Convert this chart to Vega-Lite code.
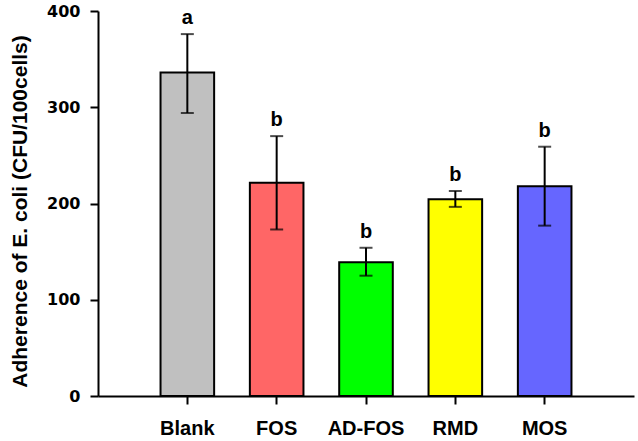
{
  "$schema": "https://vega.github.io/schema/vega-lite/v6.json",
  "autosize": {"type": "none"},
  "padding": {"left": 98, "top": 11, "right": 4, "bottom": 45},
  "width": 536,
  "height": 385,
  "background": "white",
  "config": {"view": {"stroke": null}, "font": "Liberation Sans"},
  "data": {"values": [
    {"group": "Blank", "mean": 336, "lo": 294, "hi": 376, "letter": "a"},
    {"group": "FOS", "mean": 221.5, "lo": 173, "hi": 270, "letter": "b"},
    {"group": "AD-FOS", "mean": 139, "lo": 125, "hi": 154, "letter": "b"},
    {"group": "RMD", "mean": 204.5, "lo": 196.5, "hi": 213, "letter": "b"},
    {"group": "MOS", "mean": 218, "lo": 177, "hi": 259, "letter": "b"}
  ]},
  "encoding": {
    "x": {
      "field": "group", "type": "nominal", "sort": null,
      "scale": {"paddingInner": 0, "paddingOuter": 0.5},
      "axis": {
        "title": null, "labelAngle": 0,
        "labelFont": "Liberation Sans", "labelFontSize": 20, "labelFontWeight": "bold", "labelColor": "black",
        "labelPadding": 14,
        "domainColor": "black", "domainWidth": 2,
        "tickColor": "black", "tickWidth": 2, "tickSize": 8
      }
    }
  },
  "layer": [
    {
      "mark": {"type": "bar", "width": {"band": 0.6}, "stroke": "black", "strokeWidth": 2},
      "encoding": {
        "y": {
          "field": "mean", "type": "quantitative",
          "scale": {"domain": [0, 400], "nice": false},
          "axis": {
            "title": "Adherence of E. coli (CFU/100cells)",
            "titleFont": "Liberation Sans", "titleFontSize": 21, "titleFontWeight": "bold", "titleColor": "black",
            "titlePadding": 16, "titleY": 200,
            "values": [0, 100, 200, 300, 400], "grid": false,
            "labelFont": "DejaVu Sans", "labelFontSize": 16, "labelFontWeight": "bold", "labelColor": "black",
            "labelPadding": 10,
            "domainColor": "black", "domainWidth": 2,
            "tickColor": "black", "tickWidth": 2, "tickSize": 8
          }
        },
        "color": {
          "field": "group", "type": "nominal", "legend": null,
          "scale": {"domain": ["Blank", "FOS", "AD-FOS", "RMD", "MOS"], "range": ["#c0c0c0", "#ff6666", "#00ff00", "#ffff00", "#6666ff"]}
        }
      }
    },
    {
      "mark": {"type": "rule", "color": "black", "strokeWidth": 2},
      "encoding": {"y": {"field": "lo", "type": "quantitative"}, "y2": {"field": "hi"}}
    },
    {
      "mark": {"type": "tick", "color": "black", "thickness": 2, "size": 13, "orient": "horizontal"},
      "encoding": {"y": {"field": "lo", "type": "quantitative"}}
    },
    {
      "mark": {"type": "tick", "color": "black", "thickness": 2, "size": 13, "orient": "horizontal"},
      "encoding": {"y": {"field": "hi", "type": "quantitative"}}
    },
    {
      "mark": {"type": "text", "font": "Liberation Sans", "fontSize": 20, "fontWeight": "bold", "color": "black", "baseline": "alphabetic", "dy": -10},
      "encoding": {"y": {"field": "hi", "type": "quantitative"}, "text": {"field": "letter"}}
    }
  ]
}
